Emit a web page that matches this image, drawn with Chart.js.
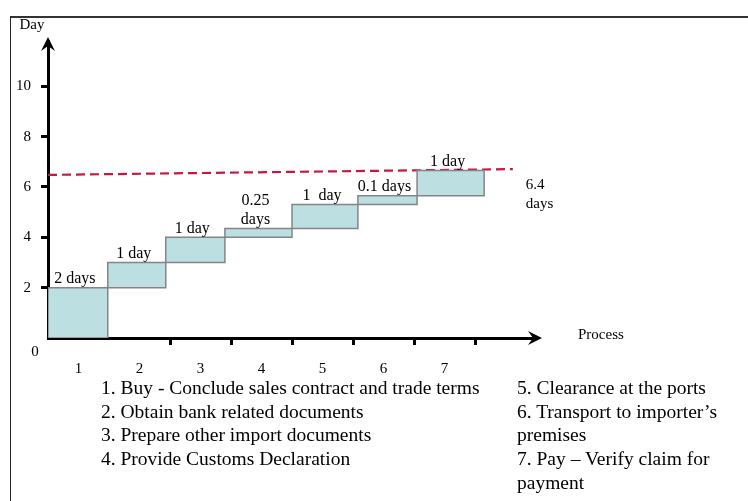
<!DOCTYPE html>
<html>
<head>
<meta charset="utf-8">
<title>Import process timeline</title>
<script src="https://cdn.jsdelivr.net/npm/chart.js@4.4.0/dist/chart.umd.min.js"></script>
<style>
  html, body { margin: 0; padding: 0; background: #fff; }
  #wrap { position: relative; width: 748px; height: 501px; overflow: hidden; }
  #frame { position: absolute; left: 10px; top: 16px; width: 800px; height: 600px;
           border-left: 1px solid #222; border-top: 2px solid #333; }
  canvas { position: absolute; left: 0; top: 0; }
  .steps { position: absolute; top: 376px; font-family: "Liberation Serif", serif;
           font-size: 19.5px; line-height: 23.7px; color: #000; }
  #stepsLeft { left: 101px; white-space: nowrap; }
  #stepsRight { left: 517px; width: 222px; }
</style>
</head>
<body>
<div id="wrap">
  <div id="frame"></div>
  <canvas id="chart" width="748" height="501"></canvas>
  <div class="steps" id="stepsLeft"></div>
  <div class="steps" id="stepsRight"></div>
</div>
<script>
// process numbers on the x axis
const processes = ['1', '2', '3', '4', '5', '6', '7'];
// where each step starts / ends along the process axis
const stepEdges = [0, 0.98, 1.93, 2.9, 4.0, 5.08, 6.05, 7.15];
// cumulative days at the bottom and top of each step
const dayStart = [0, 2, 3, 4, 4.35, 5.3, 5.65];
const dayEnd = [2, 3, 4, 4.35, 5.3, 5.65, 6.65];
const durationLabels = [['2 days'], ['1 day'], ['1 day'], ['0.25', 'days'], ['1  day'], ['0.1 days'], ['1 day']];
// red dashed total line
const totalX = [0, 7.62];
const totalY = [6.48, 6.71];
const totalLabel = ['6.4', 'days'];
const yTicks = [2, 4, 6, 8, 10];

const stepsLeft = [
  '1. Buy - Conclude sales contract and trade terms',
  '2. Obtain bank related documents',
  '3. Prepare other import documents',
  '4. Provide Customs Declaration'
];
const stepsRight = [
  '5. Clearance at the ports',
  '6. Transport to importer\u2019s premises',
  '7. Pay \u2013 Verify claim for payment'
];

function fillList(id, items) {
  const box = document.getElementById(id);
  items.forEach(t => {
    const d = document.createElement('div');
    d.textContent = t;
    box.appendChild(d);
  });
}
fillList('stepsLeft', stepsLeft);
fillList('stepsRight', stepsRight);

const serif = '"Liberation Serif", "Times New Roman", serif';

// one closed rectangle per step
const stepSets = processes.map((p, i) => ({
  label: 'Step ' + p,
  data: [
    { x: stepEdges[i], y: dayStart[i] },
    { x: stepEdges[i + 1], y: dayStart[i] },
    { x: stepEdges[i + 1], y: dayEnd[i] },
    { x: stepEdges[i], y: dayEnd[i] },
    { x: stepEdges[i], y: dayStart[i] }
  ],
  fill: 'shape',
  backgroundColor: '#bcdfe2',
  borderColor: '#858585',
  borderWidth: 1.5,
  pointRadius: 0,
  tension: 0,
  order: 1
}));

const totalSet = {
  label: 'Total',
  data: totalX.map((x, i) => ({ x, y: totalY[i] })),
  borderColor: '#c8173d',
  borderWidth: 2.2,
  borderDash: [9, 5],
  pointRadius: 0,
  fill: false,
  order: 5
};

function arrowHead(ctx, tx, ty, dir) {
  // dir: 'up' or 'right'
  const pts = dir === 'up'
    ? [[tx, ty], [tx - 7, ty + 14], [tx, ty + 9], [tx + 7, ty + 14]]
    : [[tx, ty], [tx - 14, ty - 7], [tx - 9, ty], [tx - 14, ty + 7]];
  ctx.beginPath();
  ctx.moveTo(pts[0][0], pts[0][1]);
  pts.slice(1).forEach(p => ctx.lineTo(p[0], p[1]));
  ctx.closePath();
  ctx.fill();
}

const annotations = {
  id: 'annotations',
  afterDraw(chart) {
    const { ctx, chartArea: a, scales: { x, y } } = chart;
    ctx.save();
    ctx.fillStyle = '#000';
    arrowHead(ctx, a.left, a.top - 4, 'up');
    arrowHead(ctx, a.right + 5, a.bottom, 'right');

    ctx.font = '16px ' + serif;
    ctx.textBaseline = 'middle';
    ctx.textAlign = 'center';
    durationLabels.forEach((lines, i) => {
      const cx = (x.getPixelForValue(stepEdges[i]) + x.getPixelForValue(stepEdges[i + 1])) / 2 - 3;
      const top = y.getPixelForValue(dayEnd[i]);
      lines.forEach((t, k) => ctx.fillText(t, cx, top - 9 - (lines.length - 1 - k) * 19));
    });

    ctx.font = '15px ' + serif;
    ctx.fillText('Day', a.left - 16, a.top - 16);
    ctx.fillText('0', a.left - 13, a.bottom + 14);

    ctx.textAlign = 'left';
    ctx.fillText('Process', a.right + 41, a.bottom - 3);
    const ex = x.getPixelForValue(totalX[totalX.length - 1]);
    const ey = y.getPixelForValue(totalY[totalY.length - 1]);
    totalLabel.forEach((t, k) => ctx.fillText(t, ex + 13, ey + 16 + k * 19));
    ctx.restore();
  }
};

new Chart(document.getElementById('chart'), {
  type: 'line',
  data: { datasets: [...stepSets, totalSet] },
  options: {
    responsive: false,
    animation: false,
    events: [],
    layout: { padding: { left: 10, top: 41, right: 211, bottom: 123 } },
    plugins: { legend: { display: false }, tooltip: { enabled: false } },
    scales: {
      x: {
        type: 'linear',
        min: 0,
        max: 8.016,
        z: 1,
        afterBuildTicks: s => { s.ticks = processes.map((p, i) => ({ value: i + 1 })); },
        afterFit: s => { s.height = 40; },
        grid: {
          drawOnChartArea: false,
          tickLength: 7,
          tickWidth: 3,
          tickColor: c => (c.index === 0 ? 'rgba(0,0,0,0)' : '#000')
        },
        border: { color: '#000', width: 3 },
        ticks: {
          callback: (v, i) => processes[i],
          labelOffset: -30.5,
          padding: 15,
          maxRotation: 0,
          autoSkip: false,
          color: '#000',
          font: { family: serif, size: 15 }
        }
      },
      y: {
        min: 0,
        max: 11.8,
        z: 1,
        afterBuildTicks: s => { s.ticks = yTicks.map(v => ({ value: v })); },
        afterFit: s => { s.width = 38; },
        grid: { drawOnChartArea: false, tickLength: 7, tickWidth: 3, tickColor: '#000' },
        border: { color: '#000', width: 3 },
        ticks: { padding: 10, color: '#000', font: { family: serif, size: 15 } }
      }
    }
  },
  plugins: [annotations]
});
</script>
</body>
</html>
